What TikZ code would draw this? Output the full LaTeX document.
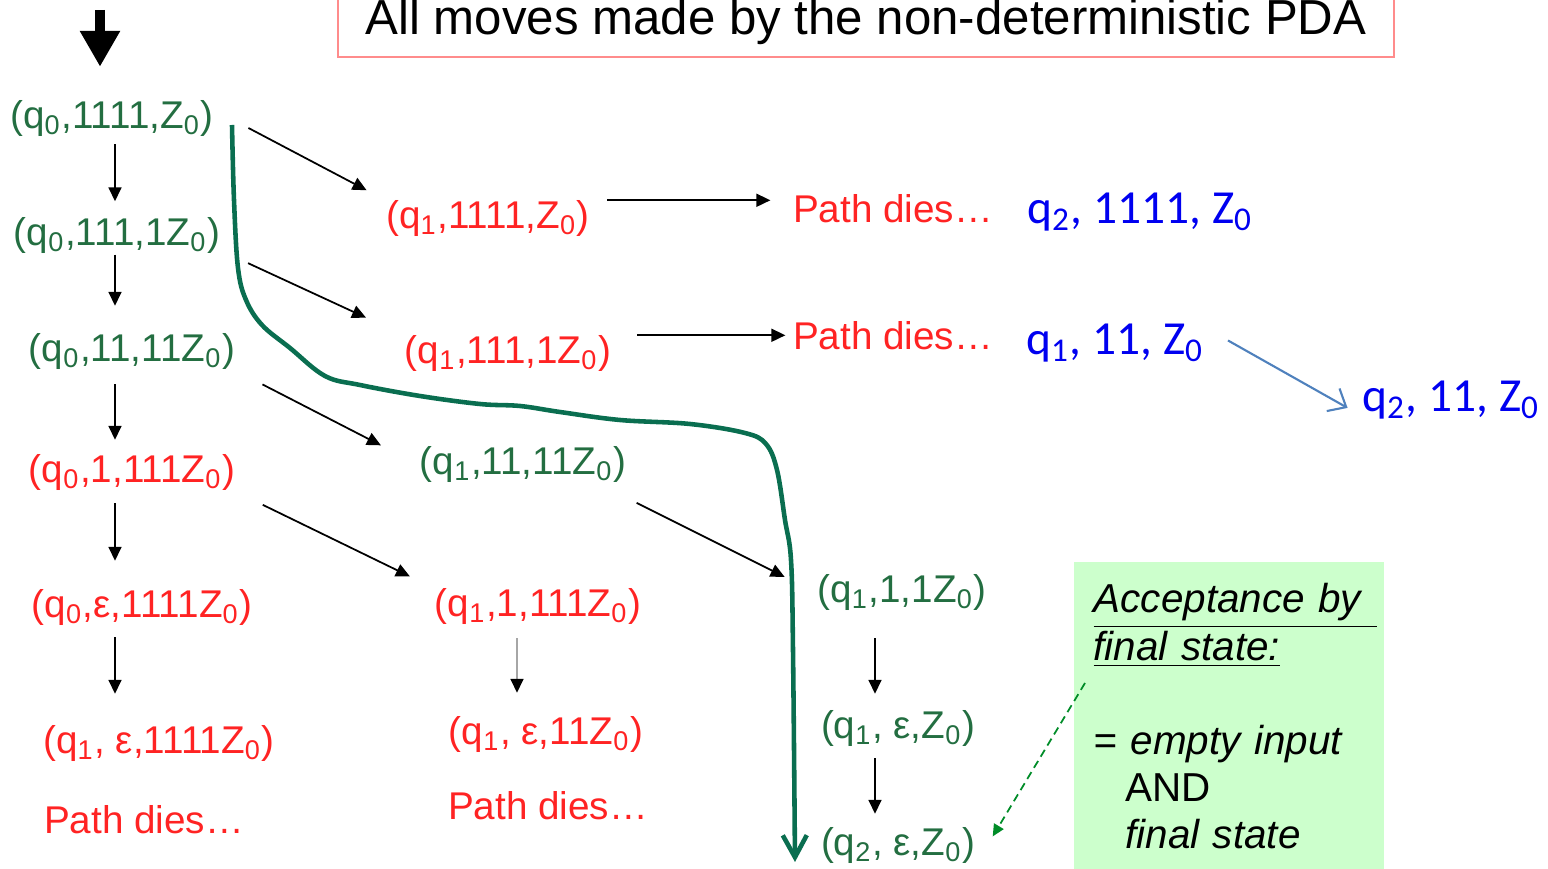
\documentclass[tikz,border=0pt]{standalone}
\usepackage{fontspec}
\setmainfont{Liberation Sans}
\newfontfamily\notefont{Carlito}
\usetikzlibrary{arrows.meta}

\definecolor{okgreen}{RGB}{35,110,65}
\definecolor{deadred}{RGB}{255,35,35}
\definecolor{noteblue}{RGB}{0,0,240}
\definecolor{linkblue}{RGB}{79,129,189}
\definecolor{pathgreen}{RGB}{10,110,80}
\definecolor{hintgreen}{RGB}{0,140,40}
\definecolor{boxgreen}{RGB}{204,255,204}
\definecolor{titlepink}{RGB}{255,140,140}

\newcommand{\qi}[1]{q\textsubscript{#1}}
\newcommand{\Zo}{Z\textsubscript{0}}

\begin{document}
\begin{tikzpicture}[x=0.1mm, y=-0.1mm,
  cfg/.style={inner sep=0pt, font=\fontsize{11}{13}\selectfont},
  ok/.style={cfg, text=okgreen},
  dead/.style={cfg, text=deadred},
  note/.style={inner sep=0pt, text=noteblue, font=\notefont\fontsize{13.5}{16}\selectfont},
  move/.style={line width=0.5pt, -{Triangle[length=1.4mm,width=1.3mm]}},
  link/.style={draw=linkblue, line width=0.6pt, -{Straight Barb[length=1.5mm,width=2.6mm]}},
  hint/.style={draw=hintgreen, line width=0.5pt, dash pattern=on 0.8mm off 0.5mm,
    -{Triangle[length=1.2mm,width=1.1mm]}},
  accbox/.style={anchor=north west, fill=boxgreen, minimum width=3.1cm, text width=2.7cm,
    inner xsep=2mm, inner ysep=2.2mm, align=left, font=\fontsize{11.5}{13.4}\selectfont},
  titlebox/.style={draw=titlepink, line width=0.7pt, minimum width=10.56cm, inner ysep=3.3pt,
    font=\fontsize{14}{16}\selectfont}]
  \useasboundingbox (0,0) rectangle (1548,869);

  \node[titlebox, anchor=south] (title) at (866,58) {All moves made by the non-deterministic PDA};

  % first column: reading the 1s and pushing them
  \node[ok] (n1) at (112,119) {(\qi0,1111,\Zo)};
  \node[ok] (n2) at (117,236) {(\qi0,111,1\Zo)};
  \node[ok] (n3) at (132,352) {(\qi0,11,11\Zo)};
  \node[dead] (n4) at (132,473) {(\qi0,1,111\Zo)};
  \node[dead] (n5) at (142,608) {(\qi0,ε,1111\Zo)};
  \node[dead] (n6) at (159,744) {(\qi1, ε,1111\Zo)};
  \node[dead] (n7) at (144,820) {Path dies…};

  \node[dead] (m1) at (488,219) {(\qi1,1111,\Zo)};
  \node[dead] (m2) at (508,354) {(\qi1,111,1\Zo)};
  \node[ok] (m3) at (523,465) {(\qi1,11,11\Zo)};
  \node[dead] (m4) at (538,607) {(\qi1,1,111\Zo)};
  \node[dead] (m5) at (546,735) {(\qi1, ε,11\Zo)};
  \node[dead] (m6) at (548,806) {Path dies…};

  \node[dead] (d1) at (893,209) {Path dies…};
  \node[dead] (d2) at (893,336) {Path dies…};

  \node[note] (b1) at (1140,212) {q\textsubscript{2}, 1111, Z\textsubscript{0}};
  \node[note] (b2) at (1115,343) {q\textsubscript{1}, 11, Z\textsubscript{0}};
  \node[note] (b3) at (1451,400) {q\textsubscript{2}, 11, Z\textsubscript{0}};

  \node[ok] (k1) at (902,593) {(\qi1,1,1\Zo)};
  \node[ok] (k2) at (898,729) {(\qi1, ε,\Zo)};
  \node[ok] (k3) at (898,846) {(\qi2, ε,\Zo)};

  \node[accbox] (acc) at (1073,561) {\underline{\textit{Acceptance by\ }}\\
    \underline{\textit{final state:}}\\[13.4pt]
    \textit{= empty input}\\
    \hspace*{9pt}AND\\
    \hspace*{9pt}\textit{final state}};

  \coordinate (init) at (100,10);
  \coordinate (axisA) at (115,0);
  \coordinate (axisB) at (517,0);
  \coordinate (axisC) at (875,0);
  \coordinate (accpt) at (1085,683);

  \draw[line width=1mm, shorten >=3.35mm, -{Triangle[length=3.6mm,width=3.8mm]}] (init) -- (init |- n1.north);

  \draw[move, shorten <=0.65mm, shorten >=1.6mm] (n1.south -| axisA) -- (n2.north -| axisA);
  \draw[move, shorten >=2.75mm] (n2.south -| axisA) -- (n3.north -| axisA);
  \draw[move, shorten <=1.35mm, shorten >=1.45mm] (n3.south -| axisA) -- (n4.north -| axisA);
  \draw[move, shorten <=1.15mm, shorten >=2.85mm] (n4.south -| axisA) -- (n5.north -| axisA);
  \draw[move, shorten <=1.05mm, shorten >=3.15mm] (n5.south -| axisA) -- (n6.north -| axisA);

  \draw[move, shorten <=3.85mm, shorten >=2.15mm] (n1.5) -- (m1.north west);
  \draw[move, shorten <=3mm, shorten >=4.2mm] (n2.352) -- (m2.north west);
  \draw[move, shorten <=3mm, shorten >=4.3mm] (n3.south east) -- (m3.west);
  \draw[move, shorten <=3mm, shorten >=2.7mm] (n4.south east) -- (m4.north west);
  \draw[move, draw=gray!70, -{Triangle[length=1.4mm,width=1.3mm,color=black]},
    shorten <=1.25mm, shorten >=2.35mm] (m4.south -| axisB) -- (m5.north -| axisB);
  \draw[move, shorten <=1.1mm, shorten >=3.6mm] ([yshift=-3.3mm]m3.east) -- (k1.west);

  \draw[move, shorten <=1.7mm, shorten >=2.2mm] (m1.north east) -- (m1.north east -| d1.west);
  \draw[move, shorten <=2.55mm, shorten >=0.7mm] (m2.north east) -- (m2.north east -| d2.west);

  \draw[move, shorten <=2.65mm, shorten >=1.65mm] (k1.south -| axisC) -- (k2.north -| axisC);
  \draw[move, shorten <=1.05mm, shorten >=1.35mm] (k2.south -| axisC) -- (k3.north -| axisC);

  \draw[link, shorten <=2.7mm, shorten >=1.6mm] (b2.10) -- (b3.190);
  \draw[hint, shorten >=3.3mm] (accpt) -- (k3.south east);

  % the accepting run
  \draw[pathgreen, line width=1.3pt, -{Straight Barb[length=2.2mm,width=2.4mm]}]
    plot[smooth, tension=0.6] coordinates {
    (232,125) (234,200) (238,268) (246,300) (262,325) (290,348) (325,376)
    (360,385) (420,396) (480,404) (520,406) (560,412) (620,420) (690,424)
    (745,433) (766,444) (777,470) (785,520) (791,560) (793,650) (795,862)
  };
\end{tikzpicture}
\end{document}
